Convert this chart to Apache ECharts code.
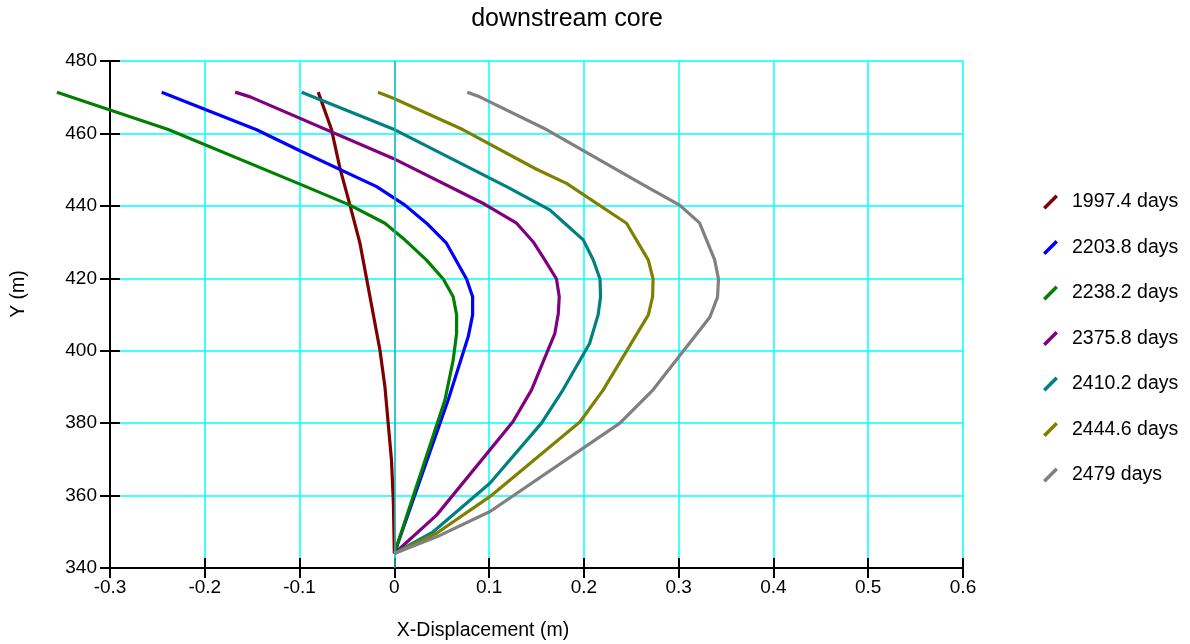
<!DOCTYPE html>
<html>
<head>
<meta charset="utf-8">
<script src="https://cdn.jsdelivr.net/npm/echarts@6/dist/echarts.min.js"></script>
<style>
html,body{margin:0;padding:0;background:#fff;}
#chart{width:1190px;height:644px;}
</style>
</head>
<body>
<div id="chart"></div>
<script>
const seriesNames = ['1997.4 days','2203.8 days','2238.2 days','2375.8 days','2410.2 days','2444.6 days','2479 days'];
const seriesColors = ['#800000','#0000FF','#008000','#800080','#008080','#808000','#808080'];

const x1997 = [-0.0803,-0.0662,-0.0574,-0.0468,-0.0363,-0.0257,-0.0152,-0.0099,-0.0065,-0.003,-0.001,0.0];
const y1997 = [471.4,461,450.4,440.2,429.7,414.9,400.2,390,380,369.8,358,344];

const x2203 = [-0.2455,-0.1453,-0.0996,-0.0187,0.0112,0.034,0.055,0.0762,0.0826,0.0826,0.078,0.0568,0.0];
const y2203 = [471.4,461,455.2,445.3,440.2,435.2,429.7,419.8,414.9,409.9,403.9,386.4,344];

const x2238 = [-0.356,-0.2385,-0.0996,-0.0468,-0.0099,0.0094,0.034,0.0516,0.0621,0.0657,0.0657,0.0621,0.0534,0.0];
const y2238 = [471.4,461.1,446,440.2,435.2,431,425,419.8,414.9,409.9,404.8,397.4,386.4,344];

const x2375 = [-0.168,-0.152,-0.0012,0.095,0.129,0.1464,0.1589,0.1711,0.174,0.173,0.1694,0.1448,0.1251,0.0446,0.0];
const y2375 = [471.4,470.1,453.1,440.5,435.2,430.1,425,419.8,414.9,410.3,404.8,389.2,380.4,354.6,344];

const x2410 = [-0.0978,0.0006,0.1184,0.164,0.178,0.1993,0.21,0.217,0.2176,0.215,0.206,0.178,0.1553,0.1008,0.041,0.0];
const y2410 = [471.4,461,445.3,438.9,435.6,430.6,425,419.8,414.9,409.9,402,389.2,380,363.4,350,344];

const x2444 = [-0.0173,-0.001,0.0727,0.150,0.1817,0.245,0.268,0.273,0.2725,0.268,0.2204,0.196,0.1008,0.0446,0.0];
const y2444 = [471.4,469.7,461,450.1,446.2,435.2,425.0,419.8,414.9,409.9,389.2,380.4,359.7,349.6,344];

const x2479 = [0.077,0.090,0.161,0.266,0.301,0.322,0.338,0.342,0.341,0.333,0.273,0.238,0.101,0.048,0.0];
const y2479 = [471.4,470.1,461,445.3,440.2,435.3,425.1,419.8,414.8,409.3,389.2,380,355.6,349,344];

const xs = [x1997,x2203,x2238,x2375,x2410,x2444,x2479];
const ys = [y1997,y2203,y2238,y2375,y2410,y2444,y2479];

const xMin = -0.3, xMax = 0.6, xStep = 0.1;
const yMin = 340, yMax = 480, yStep = 20;
// the data layer spans one extra step on the left so the longest curve is not cut
const xDataMin = -0.4;

const FONT = "'Liberation Sans', Arial, sans-serif";

const GRID_LEFT = 110, GRID_RIGHT = 227, GRID_TOP = 61, GRID_BOTTOM = 76;
const plotW = 1190 - GRID_LEFT - GRID_RIGHT;
const pxPerUnit = plotW / (xMax - xMin);
const dataGridLeft = GRID_LEFT - (xMin - xDataMin) * pxPerUnit;

const chart = echarts.init(document.getElementById('chart'), null, {renderer:'canvas'});

const series = seriesNames.map((name, i) => ({
  name: name,
  type: 'line',
  xAxisIndex: 2,
  yAxisIndex: 2,
  data: xs[i].map((x, k) => [x, ys[i][k]]),
  showSymbol: false,
  symbol: 'none',
  clip: false,
  color: seriesColors[i],
  lineStyle: {color: seriesColors[i], width: 3.2},
  itemStyle: {color: seriesColors[i]},
  emphasis: {disabled: true},
  animation: false,
  z: 3
}));
// darker zero line as in the reference
series.push({
  type: 'line', xAxisIndex: 0, yAxisIndex: 0, data: [], silent: true, z: 2,
  markLine: {silent: true, symbol: ['none','none'], label: {show: false},
    lineStyle: {color: '#2FB5B5', width: 1.5, type: 'solid'},
    data: [{xAxis: 0}]}
});

const axisCommonX = {type: 'value', min: xMin, max: xMax, interval: xStep, position: 'bottom', gridIndex: 0};
const axisCommonY = {type: 'value', min: yMin, max: yMax, interval: yStep, position: 'left', gridIndex: 0};

chart.setOption({
  backgroundColor: '#ffffff',
  animation: false,
  title: {
    text: 'downstream core',
    left: 562,
    top: 2,
    textAlign: 'center',
    textStyle: {fontFamily: FONT, fontSize: 25, fontWeight: 'normal', color: '#000'}
  },
  grid: [
    {left: GRID_LEFT, right: GRID_RIGHT, top: GRID_TOP, bottom: GRID_BOTTOM, containLabel: false},
    {left: dataGridLeft, right: GRID_RIGHT, top: GRID_TOP, bottom: GRID_BOTTOM, containLabel: false}
  ],
  legend: {
    orient: 'vertical',
    left: 1038,
    top: 187,
    itemWidth: 24,
    itemHeight: 15,
    itemGap: 25.5,
    // slanted stroke, with an empty anchor point at x=24 to keep a gap before the text
    icon: 'path://M0,12.5 L12.5,0 L15,2.5 L2.5,15 Z M24,0 Z',
    textStyle: {fontFamily: FONT, fontSize: 19.5, color: '#000'},
    data: seriesNames,
    selectedMode: false
  },
  xAxis: [
    Object.assign({}, axisCommonX, {
      axisLine: {show: true, onZero: false, lineStyle: {color: '#000', width: 2}},
      axisTick: {show: true, inside: true, length: 10, lineStyle: {color: '#000', width: 2}},
      axisLabel: {show: true, margin: 10, fontFamily: FONT, fontSize: 19, color: '#000',
        formatter: v => String(Math.round(v * 10) / 10)},
      splitLine: {show: true, lineStyle: {color: '#00FFFF', width: 1.5}}
    }),
    Object.assign({}, axisCommonX, {
      axisLine: {show: false, onZero: false},
      axisTick: {show: true, inside: false, length: 10, lineStyle: {color: '#000', width: 2}},
      axisLabel: {show: false},
      splitLine: {show: false}
    }),
    {type: 'value', gridIndex: 1, min: xDataMin, max: xMax, interval: xStep, show: false,
      axisLine: {onZero: false}, splitLine: {show: false}}
  ],
  yAxis: [
    Object.assign({}, axisCommonY, {
      axisLine: {show: true, onZero: false, lineStyle: {color: '#000', width: 2}},
      axisTick: {show: true, inside: true, length: 10, lineStyle: {color: '#000', width: 2}},
      axisLabel: {show: true, margin: 13, fontFamily: FONT, fontSize: 19, color: '#000'},
      splitLine: {show: true, lineStyle: {color: '#00FFFF', width: 1.5}}
    }),
    Object.assign({}, axisCommonY, {
      axisLine: {show: false, onZero: false},
      axisTick: {show: true, inside: false, length: 10, lineStyle: {color: '#000', width: 2}},
      axisLabel: {show: false},
      splitLine: {show: false}
    }),
    {type: 'value', gridIndex: 1, min: yMin, max: yMax, interval: yStep, show: false,
      axisLine: {onZero: false}, splitLine: {show: false}}
  ],
  graphic: [
    {type: 'text', x: 483, y: 631, style: {text: 'X-Displacement (m)', font: "19.5px 'Liberation Sans', Arial, sans-serif", fill: '#000', textAlign: 'center', textVerticalAlign: 'middle'}},
    {type: 'text', x: 19, y: 294, rotation: Math.PI / 2, style: {text: 'Y (m)', font: "19.5px 'Liberation Sans', Arial, sans-serif", fill: '#000', textAlign: 'center', textVerticalAlign: 'middle'}}
  ],
  series: series
});
</script>
</body>
</html>
